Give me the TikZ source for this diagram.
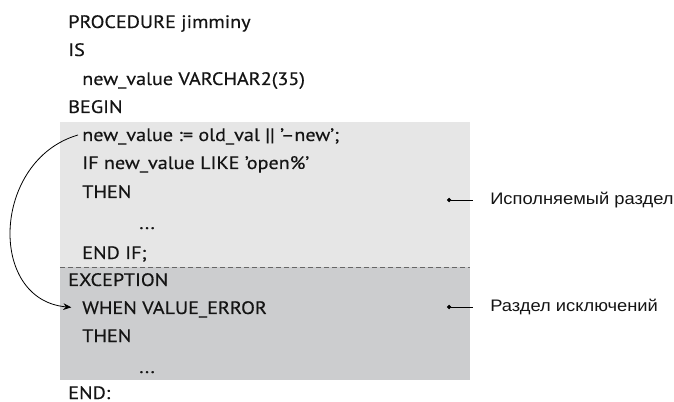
\documentclass[tikz,border=0pt]{standalone}
\usepackage{fontspec}
\setmainfont[FakeStretch=1.12,FakeBold=0.4]{PT Sans}
\newfontfamily\labelfont[FakeStretch=1.1]{Liberation Sans}
\usetikzlibrary{arrows.meta}
\definecolor{execgray}{RGB}{230,230,230}
\definecolor{excgray}{RGB}{204,205,207}
\definecolor{codeink}{RGB}{20,20,20}
\tikzset{
  code/.style={anchor=base west,inner sep=0pt,text=codeink,font=\fontsize{13.5}{15}\selectfont},
  lbl/.style={anchor=west,inner sep=0pt,text=codeink,font=\labelfont\fontsize{12.5}{14}\selectfont},
  leader/.style={line width=0.6pt,{Circle[length=3.2pt]}-},
  jump/.style={line width=0.6pt,-{Stealth[length=6pt,width=5pt]}},
}
\begin{document}
\begin{tikzpicture}[x=0.75pt,y=-0.75pt]
\useasboundingbox (0,0) rectangle (674,402);
% section backgrounds
\fill[execgray] (60,122) rectangle (470,267);
\fill[excgray] (60,267) rectangle (470,380);
\draw[gray!80!black,line width=0.6pt,dash pattern=on 3.5pt off 2.5pt] (60,267) -- (470,267);
% code lines
\node[code] (proc) at (68,28) {PROCEDURE jimminy};
\node[code] (is) at (68,56) {IS};
\node[code] (decl) at (82,85) {new\_value VARCHAR2(35)};
\node[code] (begin) at (68,113) {BEGIN};
\node[code] (assign) at (82,141) {new\_value := old\_val || '–new';};
\node[code] (if) at (82,169) {IF new\_value LIKE 'open\%'};
\node[code] (then1) at (82,198) {THEN};
\node[code] (dots1) at (139,229) {...};
\node[code] (endif) at (82,259) {END IF;};
\node[code] (exc) at (68,286) {EXCEPTION};
\node[code] (when) at (82,314) {WHEN VALUE\_ERROR};
\node[code] (then2) at (82,342) {THEN};
\node[code] (dots2) at (139,373) {...};
\node[code] (end) at (68,399) {END:};
% jump arrow
\draw[jump] ([xshift=-3pt,yshift=4.5pt]assign.base west) .. controls (-8,160) and (-13,300) .. ([xshift=-8pt,yshift=5pt]when.base west);
% labels
\coordinate (bexec) at (447,200);
\coordinate (bexc) at (447,307);
\node[lbl] (lexec) at (490,200) {Исполняемый раздел};
\node[lbl] (lexc) at (490,307) {Раздел исключений};
\draw[leader] (bexec) -- ([xshift=-13pt]lexec.west);
\draw[leader] (bexc) -- ([xshift=-13pt]lexc.west);
\end{tikzpicture}
\end{document}
